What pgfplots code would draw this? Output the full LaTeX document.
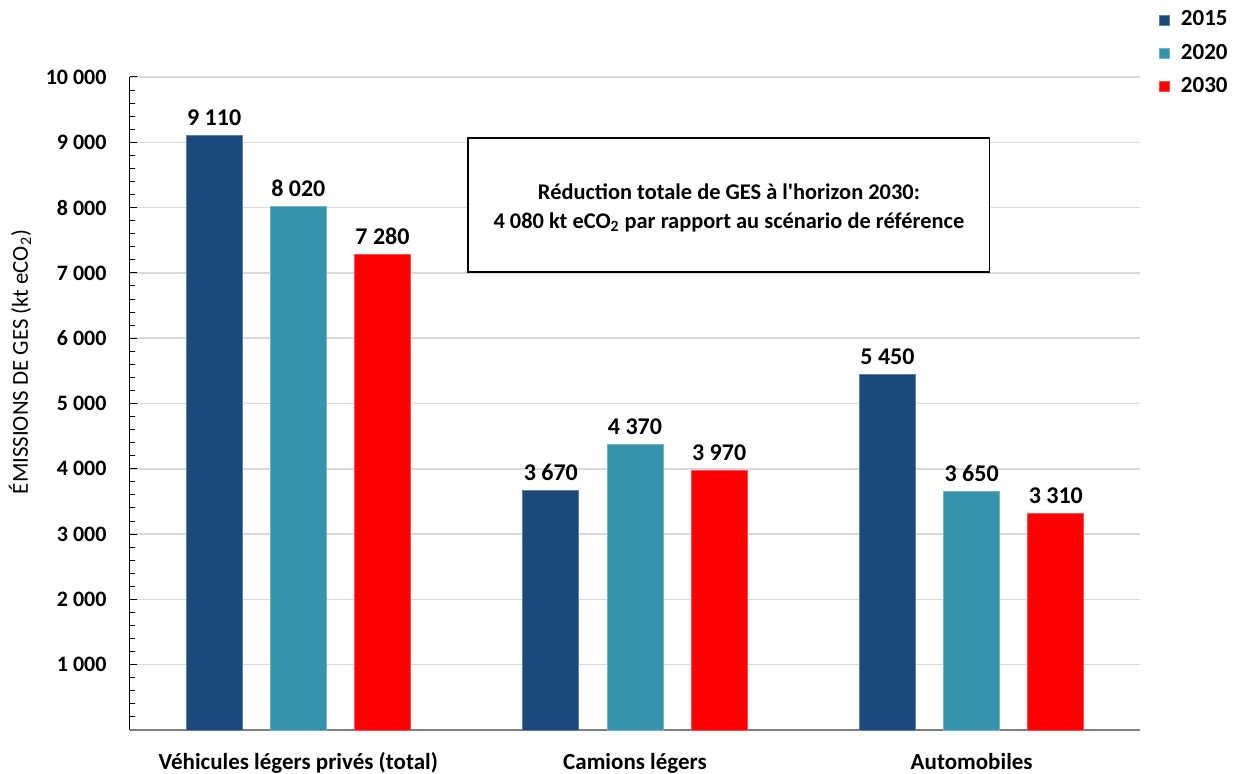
\documentclass[border=0pt]{standalone}
\usepackage{pgfplots}
\pgfplotsset{compat=1.18}
\usepackage{fontspec}
\setmainfont{Carlito}
\definecolor{c2015}{HTML}{1B497E}
\definecolor{c2020}{HTML}{3793AB}
\definecolor{c2030}{HTML}{FF0000}
\definecolor{gridgray}{HTML}{D9D9D9}
\definecolor{axisgray}{HTML}{7F7F7F}
\newcommand\bfs{\fontsize{11}{14.5}\selectfont\bfseries}
\newcommand\rms{\fontsize{11.4}{13}\selectfont}

\begin{document}
\begin{tikzpicture}
\useasboundingbox (0,0) rectangle (619pt,386.5pt);
\begin{axis}[
  at={(65pt,21.5pt)}, anchor=south west,
  scale only axis, width=505pt, height=326.5pt,
  xmin=-0.5, xmax=2.5, ymin=0, ymax=10000,
  axis x line*=bottom, axis y line*=left,
  axis line style={-},
  x axis line style={axisgray, line width=1pt},
  y axis line style={black, line width=0.5pt},
  xtick={0,1,2},
  xticklabels={Véhicules légers privés (total), Camions légers, Automobiles},
  xtick style={draw=none},
  xticklabel style={font=\fontsize{11.5}{14}\selectfont\bfseries, anchor=base, yshift=-19.5pt},
  scaled y ticks=false,
  ytick={0,1000,...,10000},
  yticklabels={,1 000,2 000,3 000,4 000,5 000,6 000,7 000,8 000,9 000,10 000},
  minor ytick={0,200,...,10000},
  yticklabel style={font=\bfs, xshift=-8.2pt},
  tick align=inside,
  ytick style={black, line width=0.5pt},
  major tick length=3.5pt, minor tick length=2.5pt,
  ymajorgrids, major grid style={gridgray, line width=0.75pt},
  legend style={at={(1.018,1.108)}, anchor=north west, draw=none, fill=none,
    font=\fontsize{11.5}{14}\selectfont\bfseries, row sep=3.7pt, inner sep=0pt,
    legend cell align=left, /tikz/every odd column/.style={column sep=3.8pt}},
  legend image code/.code={\fill[#1] (0pt,-2.5pt) rectangle (5pt,2.5pt);},
  nodes near coords={\pgfmathprintnumber[assume math mode=true, 1000 sep={\ }]{\pgfplotspointmeta}},
  every node near coord/.append style={font=\fontsize{12}{14}\selectfont\bfseries, black, yshift=1.4pt},
]
% bars sit at group position -0.25 / 0 / +0.25
\addplot[ybar, bar width=0.166, fill=c2015, draw=c2015!70!white, line width=0.4pt]
  coordinates {(-0.25,9110) (0.75,3670) (1.75,5450)};
\addlegendentry{2015}
\addplot[ybar, bar width=0.166, fill=c2020, draw=c2020!70!white, line width=0.4pt]
  coordinates {(0,8020) (1,4370) (2,3650)};
\addlegendentry{2020}
\addplot[ybar, bar width=0.166, fill=c2030, draw=c2030!70!white, line width=0.4pt]
  coordinates {(0.25,7280) (1.25,3970) (2.25,3310)};
\addlegendentry{2030}
% text box with the total reduction
\draw[black, line width=0.6pt, fill=white]
  (axis cs:0.504,7014) rectangle (axis cs:2.054,9066);
\node[align=center, font=\fontsize{11.2}{14.5}\selectfont\bfseries] at (axis cs:1.279,7995)
  {Réduction totale de GES à l\textquotesingle horizon 2030:\\
   4 080 kt eCO\textsubscript{2} par rapport au scénario de référence};
\end{axis}
\node[rotate=90, font=\rms] at (10pt,205.5pt) {ÉMISSIONS DE GES (kt eCO\textsubscript{2})};
\end{tikzpicture}
\end{document}
